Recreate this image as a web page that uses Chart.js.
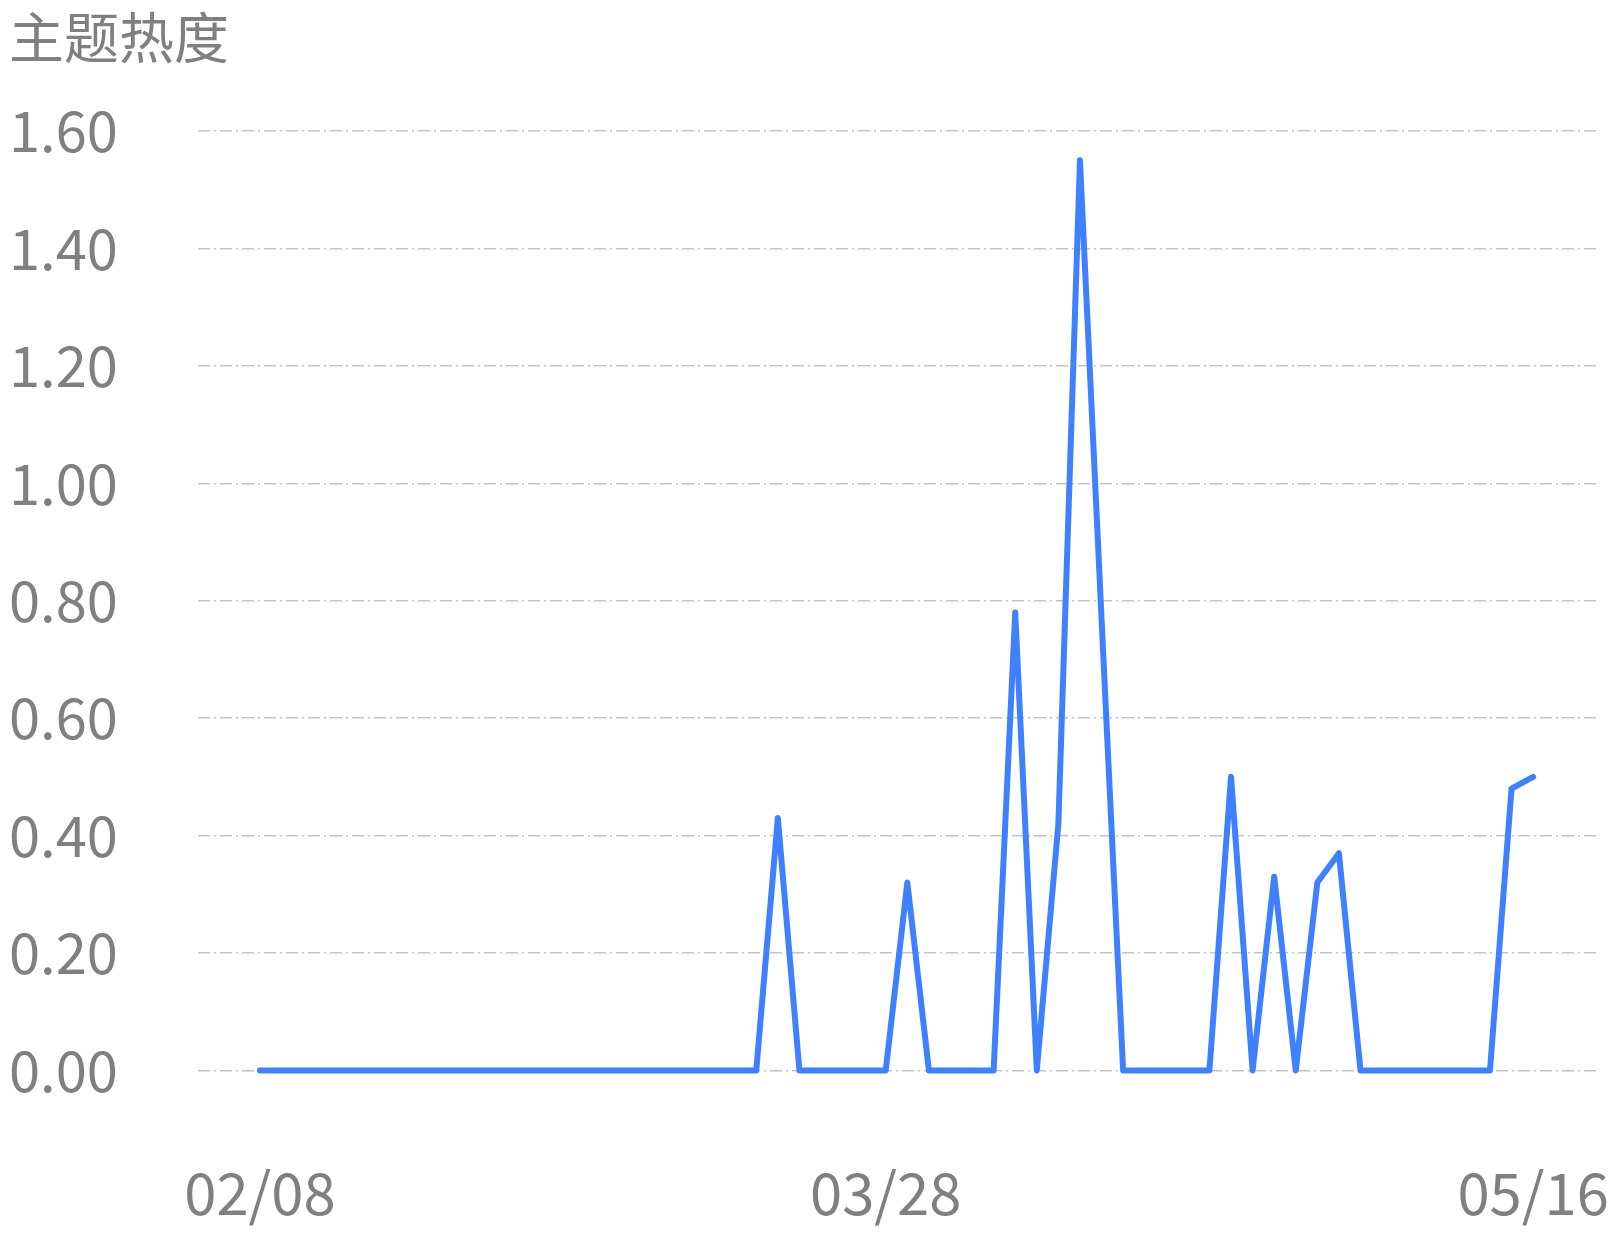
<!DOCTYPE html>
<html>
<head>
<meta charset="utf-8">
<script src="https://cdn.jsdelivr.net/npm/chart.js@4"></script>
<style>
  html, body { margin: 0; padding: 0; background: #ffffff; }
  #wrap { width: 1618px; height: 1236px; }
</style>
</head>
<body>
<div id="wrap"><canvas id="c" width="1618" height="1236"></canvas></div>
<script>
const chartTitle = '主题热度';

const dateLabels = [
  '02/08','02/09','02/11','02/12','02/14','02/16','02/17','02/19','02/21','02/22',
  '02/24','02/26','02/27','02/29','03/02','03/03','03/05','03/07','03/08','03/10',
  '03/12','03/13','03/15','03/17','03/18','03/20','03/22','03/24','03/26','03/28',
  '03/29','03/31','04/01','04/03','04/05','04/06','04/08','04/10','04/11','04/13',
  '04/15','04/16','04/18','04/20','04/21','04/23','04/25','04/26','04/28','04/30',
  '05/01','05/03','05/05','05/06','05/08','05/10','05/11','05/13','05/15','05/16'
];

const heatValues = [
  0, 0, 0, 0, 0, 0, 0, 0, 0, 0,
  0, 0, 0, 0, 0, 0, 0, 0, 0, 0,
  0, 0, 0, 0, 0.43, 0, 0, 0, 0, 0,
  0.32, 0, 0, 0, 0, 0.78, 0, 0.42, 1.55, 0.77,
  0, 0, 0, 0, 0, 0.50, 0, 0.33, 0, 0.32,
  0.37, 0, 0, 0, 0, 0, 0, 0, 0.48, 0.50
];

const shownXTickIndices = [0, 29, 59];
const yTickValues = [0, 0.2, 0.4, 0.6, 0.8, 1.0, 1.2, 1.4, 1.6];

const textColor = '#808080';
const gridColor = '#c4c4c4';
const lineColor = '#3f80ff';
const fontFamily = '"Noto Sans CJK SC", "Noto Sans", sans-serif';

const points = heatValues.map((v, i) => ({ x: i, y: v }));

new Chart(document.getElementById('c'), {
  type: 'line',
  data: {
    datasets: [{
      label: chartTitle,
      data: points,
      borderColor: lineColor,
      backgroundColor: lineColor,
      borderWidth: 6,
      pointRadius: 0,
      pointHoverRadius: 0,
      tension: 0,
      fill: false,
      borderJoinStyle: 'round',
      borderCapStyle: 'round',
      clip: false
    }]
  },
  options: {
    responsive: false,
    animation: false,
    devicePixelRatio: 1,
    layout: { padding: { left: 9, right: 21, top: 0, bottom: 5 } },
    plugins: {
      legend: { display: false },
      tooltip: { enabled: false },
      title: {
        display: true,
        text: chartTitle,
        align: 'start',
        color: textColor,
        font: { family: fontFamily, size: 55, weight: 'normal' },
        padding: { top: 4, bottom: 61 }
      }
    },
    scales: {
      x: {
        type: 'linear',
        min: -2.87,
        max: 61.96,
        afterBuildTicks: (scale) => {
          scale.ticks = shownXTickIndices.map(v => ({ value: v }));
        },
        ticks: {
          autoSkip: false,
          maxRotation: 0,
          color: textColor,
          font: { family: fontFamily, size: 58 },
          padding: 3,
          callback: (v) => dateLabels[v] !== undefined ? dateLabels[v] : ''
        },
        grid: {
          display: true,
          drawOnChartArea: false,
          drawTicks: true,
          tickLength: 85,
          color: 'rgba(0,0,0,0)'
        },
        border: { display: false }
      },
      y: {
        min: 0,
        max: 1.6,
        afterBuildTicks: (scale) => {
          scale.ticks = yTickValues.map(v => ({ value: v }));
        },
        afterFit: (scale) => { scale.width = 189; },
        ticks: {
          color: textColor,
          font: { family: fontFamily, size: 56 },
          crossAlign: 'far',
          padding: 0,
          callback: (v) => Number(v).toFixed(2)
        },
        grid: {
          color: gridColor,
          lineWidth: 1.5,
          drawTicks: false
        },
        border: { display: false, dash: [12, 4, 2, 4] }
      }
    }
  }
});
</script>
</body>
</html>
